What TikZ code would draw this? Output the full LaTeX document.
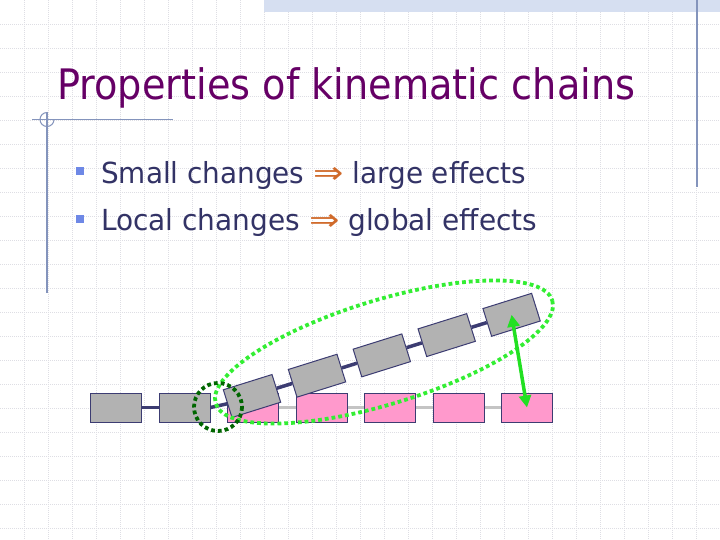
\documentclass[tikz,border=0pt]{standalone}
\usepackage{fontspec}
\usepackage{graphicx}
\setmainfont{DejaVu Sans}
\usetikzlibrary{arrows.meta}
\definecolor{gridc}{HTML}{DEDEE4}
\definecolor{bandc}{HTML}{D6DFF1}
\definecolor{framec}{HTML}{8494BC}
\definecolor{titlec}{HTML}{660066}
\definecolor{textc}{HTML}{333366}
\definecolor{arrc}{HTML}{D06A2A}
\definecolor{bulletc}{HTML}{6E88E6}
\definecolor{linkc}{HTML}{3C3C72}
\definecolor{grayfill}{HTML}{B2B2B2}
\definecolor{pinkfill}{HTML}{FF99CC}
\definecolor{barc}{HTML}{C4C4C4}
\definecolor{dkgreen}{HTML}{006600}
\definecolor{ltgreen}{HTML}{33EE33}
\definecolor{arrowgreen}{HTML}{22E022}
\newcommand\fitw[2]{\resizebox{#1}{\height}{#2}}
\newcommand\implarrow{{\color{arrc}\scalebox{1.3}[1.05]{⇒}}}
\tikzset{
  link/.style={draw=linkc,fill=grayfill,line width=1pt,minimum width=51pt,minimum height=29pt,inner sep=0pt},
  pinklink/.style={link,fill=pinkfill},
  navybar/.style={draw=linkc,line width=3.5pt},
  graybar/.style={draw=barc,line width=3.5pt},
  bulletsq/.style={fill=bulletc,minimum size=8pt,inner sep=0pt},
  dotline/.style={line width=3.8pt,dash pattern=on 3.8pt off 3pt},
  textline/.style={anchor=base west,inner sep=0pt,text=textc,font=\fontsize{29}{35}\selectfont},
}
\begin{document}
\begin{tikzpicture}[x=1pt,y=-1pt]
\fill[white] (0,0) rectangle (720,540);
\useasboundingbox (0,0) rectangle (720,540);
% grid
\foreach \i in {1,...,29} {\draw[gridc,line width=0.8pt,dash pattern=on 1pt off 1pt] (24*\i,0) -- (24*\i,540);}
\foreach \j in {1,...,22} {\draw[gridc,line width=0.8pt,dash pattern=on 1pt off 1pt] (0,24*\j) -- (720,24*\j);}
% decoration
\fill[bandc] (264,0) rectangle (720,12);
\draw[framec,line width=1.2pt] (697,0) -- (697,187);
\draw[framec,line width=1.2pt] (47,112) -- (47,293);
\draw[framec,line width=1.2pt] (32,119.5) -- (173,119.5);
\draw[framec,line width=1pt] (54,119.5) arc[start angle=0,end angle=270,radius=7];
% title
\node[anchor=base west,inner sep=0pt,text=titlec,font=\fontsize{42}{50}\selectfont] (title) at (57,100) {\fitw{578pt}{Properties of kinematic chains}};
% bullets
\node[bulletsq] (b1) at (79.7,170.8) {};
\node[bulletsq] (b2) at (79.7,219.2) {};
\node[textline] (l1) at (101,183.5) {\fitw{425pt}{Small changes \implarrow{} large effects}};
\node[textline] (l2) at (101,230.5) {\fitw{436pt}{Local changes \implarrow{} global effects}};
% unrotated chain
\node[link] (g1) at (116,407.5) {};
\node[link] (g2) at (184.5,407.5) {};
\node[pinklink] (p3) at (253,407.5) {};
\node[pinklink] (p4) at (321.5,407.5) {};
\node[pinklink] (p5) at (390,407.5) {};
\node[pinklink] (p6) at (458.5,407.5) {};
\node[pinklink] (p7) at (527,407.5) {};
\draw[graybar] (p3.east) -- (p4.west);
\draw[graybar] (p4.east) -- (p5.west);
\draw[graybar] (p5.east) -- (p6.west);
\draw[graybar] (p6.east) -- (p7.west);
\draw[navybar] (g1.east) -- (g2.west);
% rotated chain
\node[link,rotate=17.4] (r1) at (252,396) {};
\node[link,rotate=17.4] (r2) at (317,375.7) {};
\node[link,rotate=17.4] (r3) at (381.8,355.4) {};
\node[link,rotate=17.4] (r4) at (446.7,335.1) {};
\node[link,rotate=17.4] (r5) at (511.6,314.8) {};
\draw[navybar] (g2.east) -- (r1.west);
\draw[navybar] (r1.east) -- (r2.west);
\draw[navybar] (r2.east) -- (r3.west);
\draw[navybar] (r3.east) -- (r4.west);
\draw[navybar] (r4.east) -- (r5.west);
% ellipses
\draw[ltgreen,dotline] (384,352) ellipse[x radius=176,y radius=52,rotate=17];
\draw[dkgreen,dotline] (218,407) circle[radius=24];
% arrow
\draw[arrowgreen,line width=3.5pt,{Triangle[length=12pt,width=12pt]}-{Triangle[length=12pt,width=12pt]}] (r5.center) -- (p7.center);
\end{tikzpicture}
\end{document}
